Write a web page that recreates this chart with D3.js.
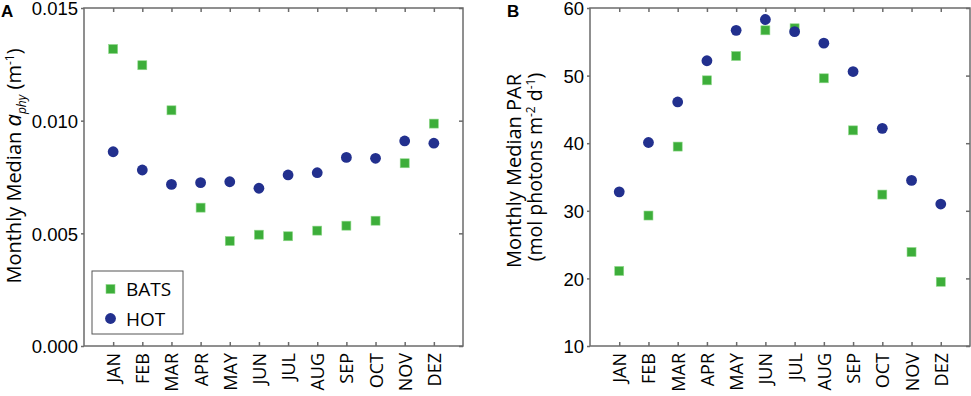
<!DOCTYPE html>
<meta charset="utf-8">
<title>Monthly medians BATS / HOT</title>
<style>
body { margin: 0; background: #fff; }
svg { font-family: "Open Sans", sans-serif; }
.frame { fill: none; stroke: #6b6b6b; stroke-width: 1.5; }
.tick line { stroke: #6b6b6b; stroke-width: 1.5; }
.domain { display: none; }
</style>
<svg width="971" height="396"></svg>
<script src="https://d3js.org/d3.v7.min.js"></script>
<script>

var months = ["JAN","FEB","MAR","APR","MAY","JUN","JUL","AUG","SEP","OCT","NOV","DEZ"];

// panel A: a_phy (m-1)
var aphyBATS = [0.01318,0.01246,0.01046,0.00614,0.00466,0.00494,0.00487,0.00512,0.00534,0.00556,0.00811,0.00987];
var aphyHOT  = [0.00862,0.00781,0.00717,0.00725,0.00729,0.00700,0.00759,0.00769,0.00837,0.00833,0.00910,0.00900];
var aphyTicks = [0, 0.005, 0.010, 0.015];

// panel B: PAR (mol photons m-2 d-1)
var parBATS = [21.1,29.3,39.5,49.3,52.9,56.7,57.0,49.6,41.9,32.4,23.9,19.5];
var parHOT  = [32.8,40.1,46.1,52.2,56.7,58.3,56.5,54.8,50.6,42.2,34.5,31.0];
var parTicks = [10, 20, 30, 40, 50, 60];

var green = "#3dae3a", navy = "#22308e";

var svg = d3.select("svg");

function panel(opt) {
  var g = svg.append("g");
  var x = d3.scaleLinear().domain([0, 13]).range([opt.left, opt.right]);
  var y = d3.scaleLinear().domain(opt.ydomain).range([346, 8]);
  var tk = 4;

  g.append("rect").attr("class", "frame")
    .attr("x", opt.left).attr("y", 8)
    .attr("width", opt.right - opt.left).attr("height", 338);

  // bottom/top ticks + month labels
  g.append("g").attr("transform", "translate(0,346)")
    .call(d3.axisBottom(x).tickValues(d3.range(1, 13)).tickSize(-tk).tickFormat(""));
  g.append("g").attr("transform", "translate(0,8)")
    .call(d3.axisTop(x).tickValues(d3.range(1, 13)).tickSize(-tk).tickFormat(""));
  g.selectAll(".mon").data(months).enter().append("text")
    .attr("transform", function(d, i) { return "translate(" + (x(i + 1) + 7) + ",353) rotate(-90)"; })
    .attr("text-anchor", "end")
    .style("font-size", "18px")
    .text(function(d) { return d; });

  // left/right ticks
  g.append("g").attr("transform", "translate(" + opt.left + ",0)")
    .call(d3.axisLeft(y).tickValues(opt.ticks).tickSize(3).tickPadding(3).tickFormat(opt.fmt))
    .selectAll("text").style("font-size", "18.5px").attr("fill", "#000").attr("dy", "0.36em");
  g.append("g").attr("transform", "translate(" + opt.right + ",0)")
    .call(d3.axisRight(y).tickValues(opt.ticks).tickSize(-tk).tickFormat(""));

  g.selectAll(".sq").data(opt.bats).enter().append("rect")
    .attr("x", function(d, i) { return x(i + 1) - 4.5; })
    .attr("y", function(d) { return y(d) - 4.5; })
    .attr("width", 9).attr("height", 9)
    .attr("fill", green).attr("stroke", "#8fd88a").attr("stroke-width", 0.6);
  g.selectAll(".dot").data(opt.hot).enter().append("circle")
    .attr("cx", function(d, i) { return x(i + 1); })
    .attr("cy", function(d) { return y(d); })
    .attr("r", 5.4)
    .attr("fill", navy);

  g.append("text").attr("x", opt.labelX).attr("y", 17)
    .style("font-family", "Liberation Sans, Arial, sans-serif")
    .style("font-weight", "bold").style("font-size", "17px")
    .text(opt.letter);
  return g;
}

var gA = panel({
  left: 84, right: 463, ydomain: [0, 0.015], ticks: aphyTicks,
  fmt: d3.format(".3f"), bats: aphyBATS, hot: aphyHOT, letter: "A", labelX: 1
});
var gB = panel({
  left: 590, right: 970, ydomain: [10, 60], ticks: parTicks,
  fmt: d3.format("d"), bats: parBATS, hot: parHOT, letter: "B", labelX: 507
});

// y label A
var la = gA.append("text")
  .attr("transform", "translate(21,166) rotate(-90)")
  .attr("text-anchor", "middle")
  .style("font-size", "20px");
la.append("tspan").text("Monthly Median ");
la.append("tspan").style("font-style", "italic").style("font-size", "22px").text("a");
la.append("tspan").style("font-style", "italic").style("font-size", "12px").attr("dy", 5).text("phy");
la.append("tspan").attr("dy", -5).text(" (m");
la.append("tspan").style("font-size", "12px").attr("dy", -7).text("-1");
la.append("tspan").attr("dy", 7).text(")");

// y label B
gB.append("text")
  .attr("transform", "translate(521,171) rotate(-90)")
  .attr("text-anchor", "middle")
  .style("font-size", "20px")
  .text("Monthly Median PAR");
var lb = gB.append("text")
  .attr("transform", "translate(542,167) rotate(-90)")
  .attr("text-anchor", "middle")
  .style("font-size", "19.5px");
lb.append("tspan").text("(mol photons m");
lb.append("tspan").style("font-size", "12px").attr("dy", -7).text("-2");
lb.append("tspan").attr("dy", 7).text(" d");
lb.append("tspan").style("font-size", "12px").attr("dy", -7).text("-1");
lb.append("tspan").attr("dy", 7).text(")");

// legend
var leg = gA.append("g");
leg.append("rect").attr("x", 92).attr("y", 271).attr("width", 91).attr("height", 63)
  .attr("fill", "#fff").attr("stroke", "#555").attr("stroke-width", 1);
leg.append("rect").attr("x", 106).attr("y", 284.5).attr("width", 9).attr("height", 9)
  .attr("fill", green).attr("stroke", "#8fd88a").attr("stroke-width", 0.6);
leg.append("circle").attr("cx", 110.5).attr("cy", 318.5).attr("r", 5.4).attr("fill", navy);
leg.append("text").attr("x", 126).attr("y", 296).style("font-size", "19px").text("BATS");
leg.append("text").attr("x", 126).attr("y", 325.5).style("font-size", "19px").text("HOT");

</script>
